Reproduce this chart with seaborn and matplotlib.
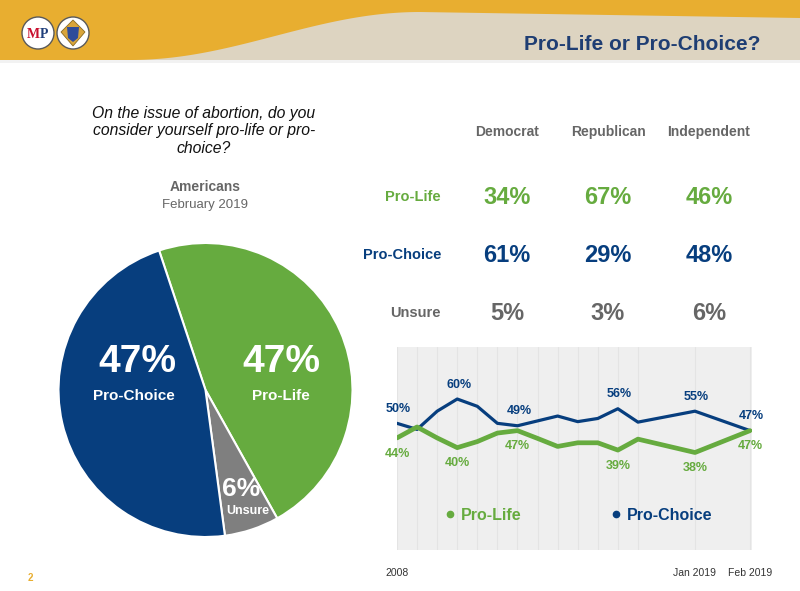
import numpy as np
import pandas as pd
import seaborn as sns
import matplotlib.pyplot as plt
from matplotlib.patches import Circle, Polygon
from matplotlib.lines import Line2D

# ---- data ----
pie_labels = ['Pro-Life', 'Unsure', 'Pro-Choice']
pie_values = [47, 6, 47]

parties = ['Democrat', 'Republican', 'Independent']
row_labels = ['Pro-Life', 'Pro-Choice', 'Unsure']
pro_life_party = [34, 67, 46]
pro_choice_party = [61, 29, 48]
unsure_party = [5, 3, 6]

# poll slots on the trend chart (2008 ... then Jan 2019, Feb 2019)
survey_x = [0, 1, 2, 3, 4, 5, 6, 7, 8, 9, 10, 11, 12, 14.84, 17.58]
tick_text = ['2008', '', '', '', '', '', '', '', '', '', '', '', '', 'Jan 2019', 'Feb 2019']
pro_choice_trend = [50, 47.5, 55, 60, 57, 50, 49, 51, 53, 50.7, 52, 56, 50.5, 55, 47]
pro_life_trend = [44, 48.5, 44, 40, 42.5, 46, 47, 43.8, 40.5, 42, 42, 39, 43.5, 38, 47]
labelled = [0, 3, 6, 11, 13, 14]

GREEN = '#66AB3F'
BLUE = '#073E7E'
GRAY = '#7F7F7F'
TXTGRAY = '#666666'
GOLD = '#E8AE30'

sns.set_theme(style='white')
plt.rcParams['font.family'] = ['Liberation Sans', 'DejaVu Sans']

W, H = 800, 591
fig = plt.figure(figsize=(8, 5.91), dpi=100)

def fx(px):
    return px / W

def fy(py):
    return 1 - py / H

# ---- header band ----
bg = fig.add_axes([0, 0, 1, 1])
bg.set_xlim(0, W)
bg.set_ylim(H, 0)
bg.axis('off')
xs = np.linspace(0, W, 200)
curve = np.where(xs < 130, 60,
                 np.where(xs < 420, 60 - 48 * (1 - np.cos(np.pi * (xs - 130) / 290)) / 2,
                          12 + 6 * (xs - 420) / 380))
bg.fill_between(xs, 0, 60, color='#DDD4C1', lw=0)
bg.fill_between(xs, 0, curve, color=GOLD, lw=0)
bg.fill_between(xs, 60, 63, color='#F2F2F2', lw=0)
bg.add_patch(Circle((38, 33), 16, facecolor='white', edgecolor='#5a5a5a', lw=1))
bg.text(33, 34, 'M', color='#C8102E', fontsize=10, fontweight='bold', ha='center', va='center',
        family=['Liberation Serif', 'DejaVu Serif'])
bg.text(44, 34, 'P', color='#1F3E7A', fontsize=10, fontweight='bold', ha='center', va='center',
        family=['Liberation Serif', 'DejaVu Serif'])
bg.add_patch(Circle((73, 33), 16, facecolor='white', edgecolor='#5a5a5a', lw=1))
bg.add_patch(Polygon([(73, 20), (85, 32), (73, 46), (61, 32)], closed=True,
                     facecolor='#D9A53A', edgecolor='#8a6a20', lw=0.6))
bg.add_patch(Polygon([(67, 27), (79, 27), (78, 38), (73, 42), (68, 38)], closed=True,
                     facecolor='#2E4C9A', edgecolor='none'))
bg.text(760, 44, 'Pro-Life or Pro-Choice?', color='#1F3E73', fontsize=15, fontweight='bold',
        ha='right', va='center', family=['Liberation Sans Narrow', 'Liberation Sans', 'DejaVu Sans'])
bg.text(30, 578, '2', color=GOLD, fontsize=7, fontweight='bold', ha='center', va='center')

# ---- question + pie ----
bg.text(204, 106, 'On the issue of abortion, do you\nconsider yourself pro-life or pro-\nchoice?',
        fontsize=11.3, style='italic', color='#111111', ha='center', va='top',
        multialignment='center', linespacing=1.2)
bg.text(205, 187, 'Americans', fontsize=10, fontweight='bold', color=TXTGRAY, ha='center', va='center')
bg.text(205, 205, 'February 2019', fontsize=9.5, color=TXTGRAY, ha='center', va='center')

r = 147
cx, cy = 205.5, 390
ax_pie = fig.add_axes([fx(cx - r), fy(cy + r), 2 * r / W, 2 * r / H])
ax_pie.pie(pie_values, colors=[GREEN, GRAY, BLUE], startangle=108.4, counterclock=False,
           wedgeprops=dict(edgecolor='white', linewidth=1.5))
ax_pie.set_xlim(-1, 1)
ax_pie.set_ylim(-1, 1)
ax_pie.set_aspect('auto')
for p in ax_pie.patches:
    p.set_clip_on(False)

# overlay for the slice labels (drawn above the pie)
top = fig.add_axes([0, 0, 1, 1], facecolor='none')
top.set_xlim(0, W)
top.set_ylim(H, 0)
top.axis('off')
top.text(137, 362, f'{pie_values[2]}%', color='white', fontsize=28, fontweight='bold', ha='center', va='center')
top.text(134, 396, pie_labels[2], color='white', fontsize=11, fontweight='bold', ha='center', va='center')
top.text(281, 362, f'{pie_values[0]}%', color='white', fontsize=28, fontweight='bold', ha='center', va='center')
top.text(281, 396, pie_labels[0], color='white', fontsize=11, fontweight='bold', ha='center', va='center')
top.text(241, 489, f'{pie_values[1]}%', color='white', fontsize=19, fontweight='bold', ha='center', va='center')
top.text(248, 511, pie_labels[1], color='white', fontsize=9, fontweight='bold', ha='center', va='center')

# ---- party table ----
col_x = [507, 608, 709]
row_y = [197, 255, 313]
row_colors = [GREEN, BLUE, TXTGRAY]
for name, x in zip(parties, col_x):
    bg.text(x, 132, name, fontsize=10, fontweight='bold', color=TXTGRAY, ha='center', va='center')
for lab, y, c, vals in zip(row_labels, row_y, row_colors, [pro_life_party, pro_choice_party, unsure_party]):
    bg.text(441, y, lab, fontsize=10.5, fontweight='bold', color=c, ha='right', va='center')
    for x, v in zip(col_x, vals):
        bg.text(x, y, f'{v}%', fontsize=17, fontweight='bold', color=c, ha='center', va='center')

# ---- trend line chart ----
trend = pd.DataFrame({'slot': survey_x, 'Pro-Life': pro_life_trend, 'Pro-Choice': pro_choice_trend})

ax = fig.add_axes([fx(397), fy(550), (752 - 397) / W, (550 - 347) / H])
ax.set_facecolor('#EFEFEF')
sns.lineplot(data=trend, x='slot', y='Pro-Choice', color=BLUE, linewidth=2.3, ax=ax)
sns.lineplot(data=trend, x='slot', y='Pro-Life', color=GREEN, linewidth=3.4, ax=ax)
ax.set_xlim(0, 17.68)
ax.set_ylim(-2.1, 81.4)
ax.set_xticks(survey_x)
ax.set_xticklabels(tick_text, fontsize=7.5, color='#333333')
ax.tick_params(axis='x', length=0, pad=13)
ax.set_yticks([])
ax.set_xlabel('')
ax.set_ylabel('')
ax.grid(axis='x', color='#E4E4E4', linewidth=0.8)
ax.set_axisbelow(True)
for s in ax.spines.values():
    s.set_visible(False)

for i in labelled:
    ax.annotate(f'{pro_choice_trend[i]:.0f}%', (survey_x[i], pro_choice_trend[i]), xytext=(1, 6),
                textcoords='offset points', ha='center', va='bottom', fontsize=9,
                fontweight='bold', color=BLUE, annotation_clip=False)
    ax.annotate(f'{pro_life_trend[i]:.0f}%', (survey_x[i], pro_life_trend[i]), xytext=(0, -7),
                textcoords='offset points', ha='center', va='top', fontsize=9,
                fontweight='bold', color=GREEN, annotation_clip=False)

handles = [Line2D([], [], color=GREEN, marker='o', linestyle='none', markersize=4.5),
           Line2D([], [], color=BLUE, marker='o', linestyle='none', markersize=4.5)]
ax.legend(handles, ['Pro-Life', 'Pro-Choice'], loc='center', ncol=2, frameon=False,
          bbox_to_anchor=(fx(579), fy(515)), bbox_transform=fig.transFigure,
          handlelength=0.6, handletextpad=0.4, columnspacing=5.6, labelcolor='markerfacecolor',
          prop={'size': 11.5, 'weight': 'bold'})

fig.savefig('out.png', dpi=100)
